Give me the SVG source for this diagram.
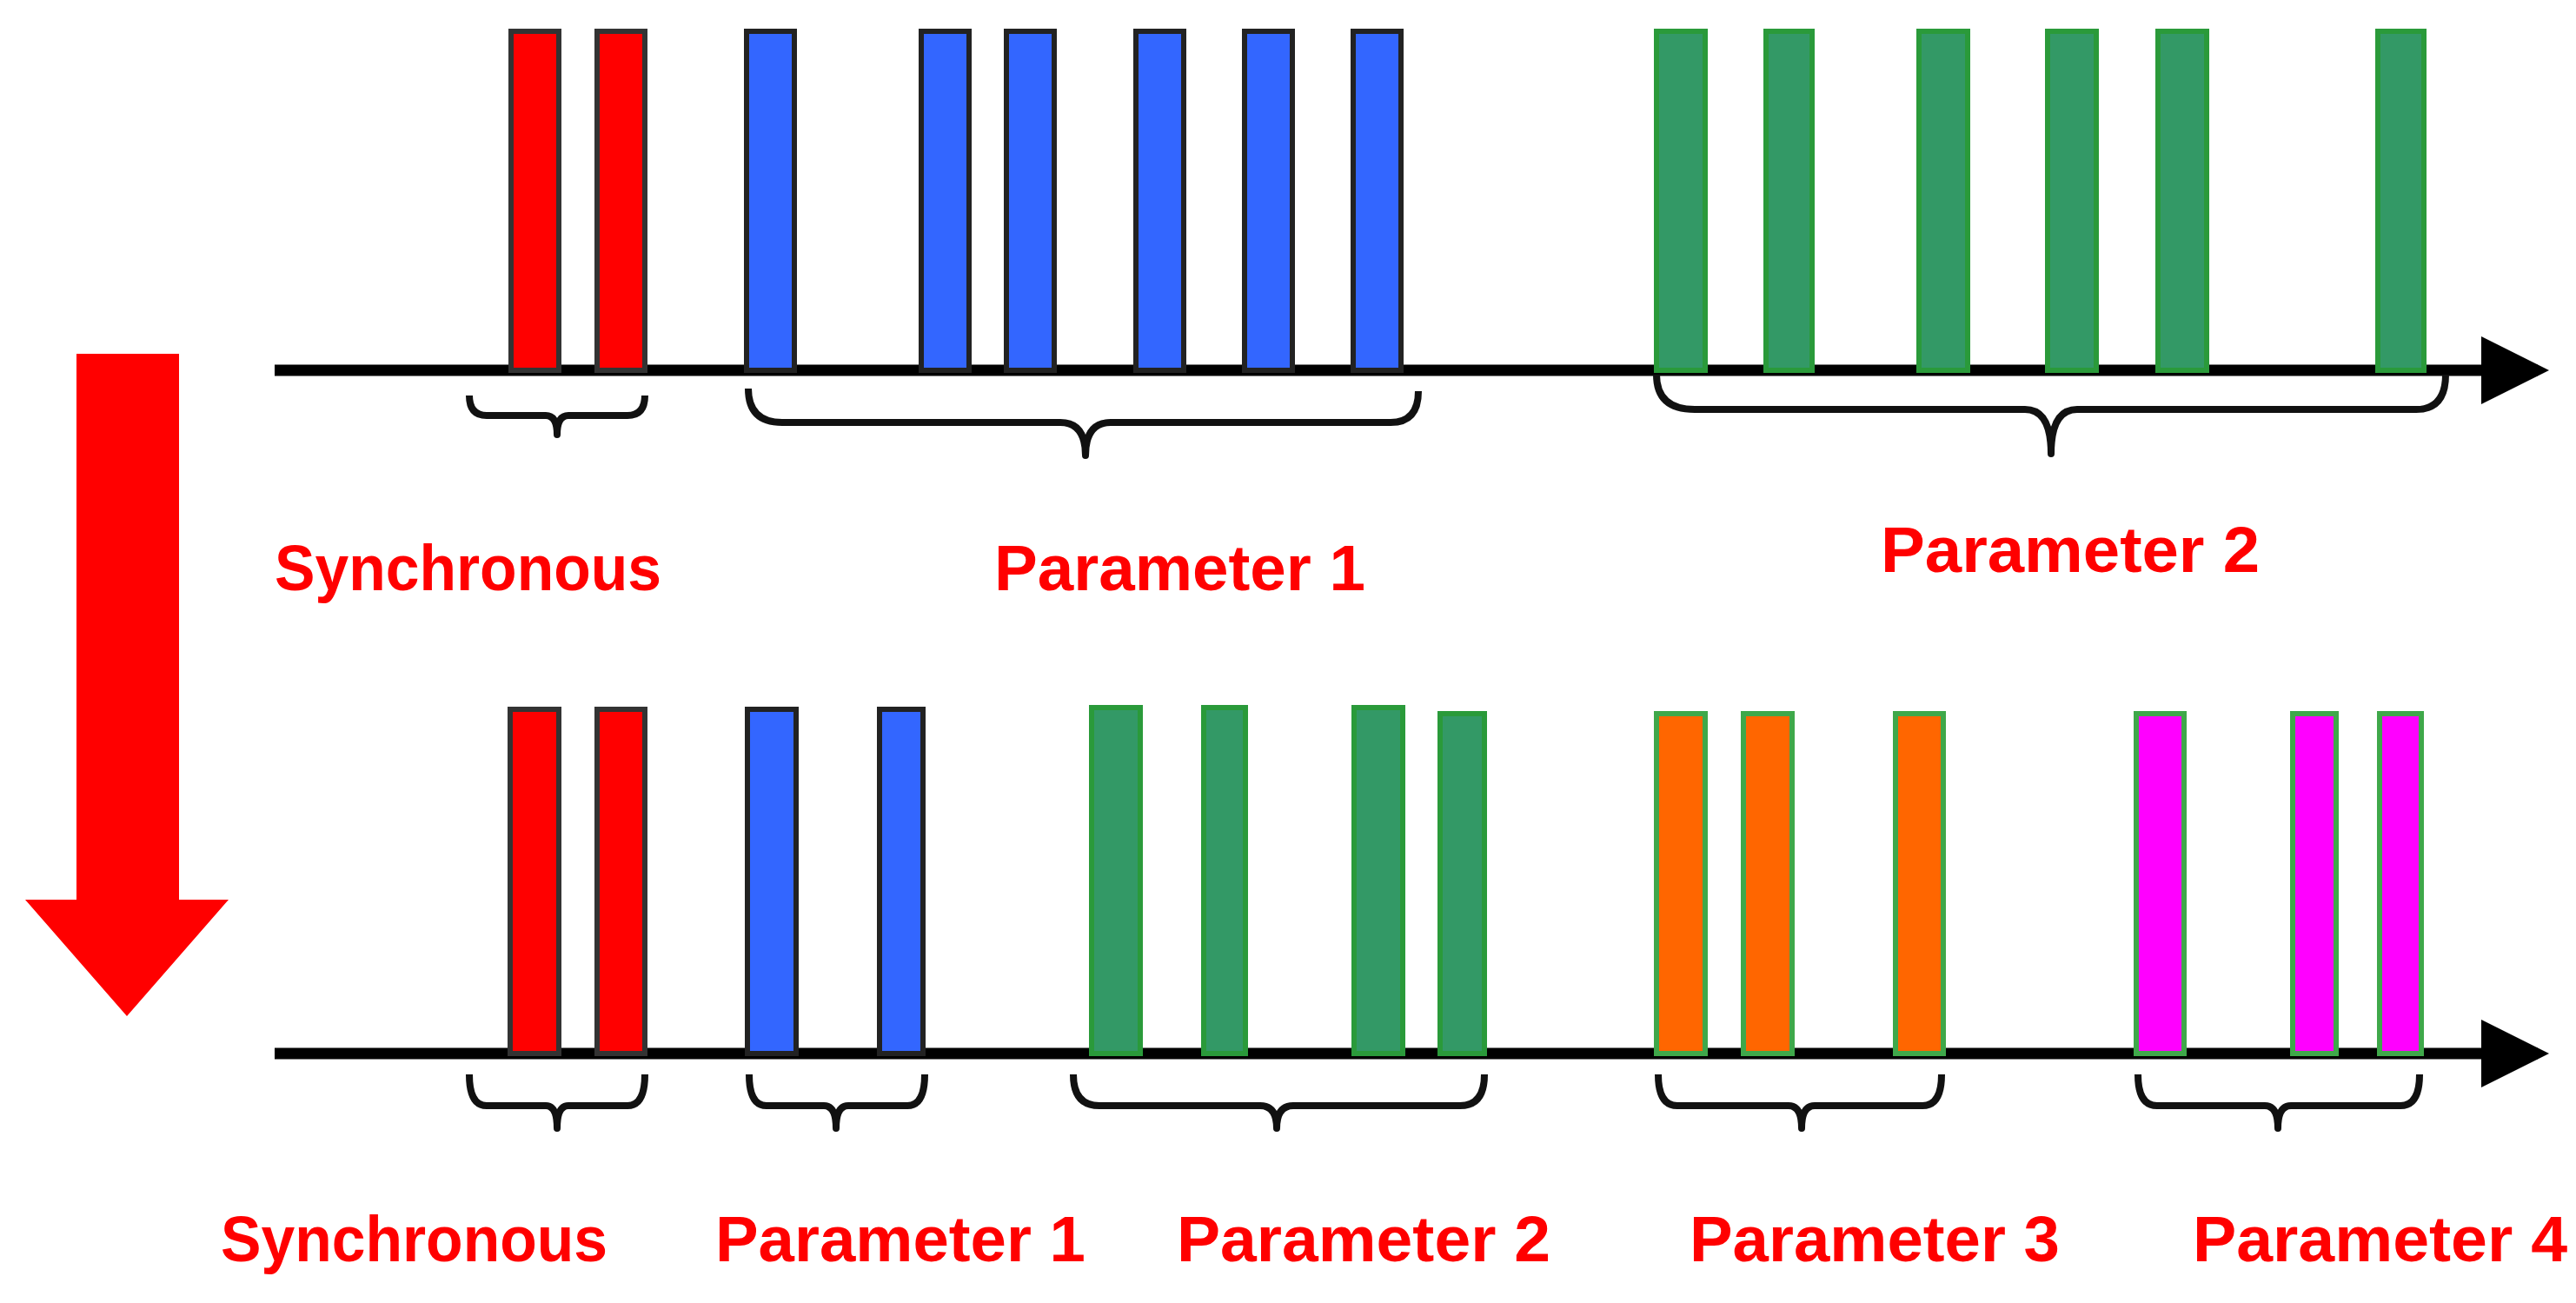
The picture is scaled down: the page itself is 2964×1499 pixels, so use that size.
<svg xmlns="http://www.w3.org/2000/svg" width="2964" height="1499" viewBox="0 0 2964 1499">
<style>
.ax{stroke:#000;stroke-width:13;fill:none}
.br{stroke:#111;stroke-width:8;fill:none;stroke-linejoin:round}
.r{fill:#ff0000;stroke:#333;stroke-width:6}
.b{fill:#3366ff;stroke:#222;stroke-width:6}
.g{fill:#339966;stroke:#2a9a3a;stroke-width:6}
.o{fill:#ff6600;stroke:#3fa84a;stroke-width:6}
.m{fill:#ff00ff;stroke:#3fa84a;stroke-width:6}
.t{font-family:"Liberation Sans",Arial,sans-serif;font-weight:bold;font-size:74px;fill:#ff0000}
</style>
<defs>
<marker id="ah" markerWidth="6" markerHeight="6" refX="5" refY="3" orient="auto" markerUnits="strokeWidth"><path d="M0,0 L6,3 L0,6 z" fill="#000"/></marker>
</defs>
<g id="big-arrow"><path d="M88,407 H206 V1035 H263 L146,1169 L29,1035 H88 Z" fill="#ff0000"/></g>
<g id="connectors">
<line class="ax" x1="316" y1="426" x2="2920" y2="426" marker-end="url(#ah)"/>
<line class="ax" x1="316" y1="1212" x2="2920" y2="1212" marker-end="url(#ah)"/>
</g>
<g id="row1-bars">
<rect class="r" x="588" y="36" width="55" height="390"/>
<rect class="r" x="687" y="36" width="55" height="390"/>
<rect class="b" x="859" y="36" width="55" height="390"/>
<rect class="b" x="1060" y="36" width="55" height="390"/>
<rect class="b" x="1158" y="36" width="55" height="390"/>
<rect class="b" x="1307" y="36" width="55" height="390"/>
<rect class="b" x="1432" y="36" width="55" height="390"/>
<rect class="b" x="1557" y="36" width="55" height="390"/>
<rect class="g" x="1906" y="36" width="56" height="390"/>
<rect class="g" x="2032" y="36" width="53" height="390"/>
<rect class="g" x="2208" y="36" width="56" height="390"/>
<rect class="g" x="2356" y="36" width="56" height="390"/>
<rect class="g" x="2483" y="36" width="56" height="390"/>
<rect class="g" x="2736" y="36" width="53" height="390"/>
</g>
<g id="row2-bars">
<rect class="r" x="587" y="816" width="56" height="396"/>
<rect class="r" x="687" y="816" width="55" height="396"/>
<rect class="b" x="860" y="816" width="56" height="396"/>
<rect class="b" x="1012" y="816" width="50" height="396"/>
<rect class="g" x="1256" y="814" width="56" height="398"/>
<rect class="g" x="1385" y="814" width="48" height="398"/>
<rect class="g" x="1558" y="814" width="56" height="398"/>
<rect class="g" x="1657" y="821" width="51" height="391"/>
<rect class="o" x="1906" y="821" width="56" height="391"/>
<rect class="o" x="2006" y="821" width="56" height="391"/>
<rect class="o" x="2181" y="821" width="55" height="391"/>
<rect class="m" x="2458" y="821" width="55" height="391"/>
<rect class="m" x="2638" y="821" width="50" height="391"/>
<rect class="m" x="2738" y="821" width="48" height="391"/>
</g>
<g id="braces">
<path class="br" d="M540,455 Q540,478 560,478 L628,478 Q641,478 641,500 Q641,478 654,478 L722,478 Q742,478 742,455"/>
<path class="br" d="M861,447 Q861,486 900,486 L1220,486 Q1249,486 1249,524 Q1249,486 1278,486 L1600,486 Q1632,486 1632,450"/>
<path class="br" d="M1906,431 Q1906,471 1950,471 L2330,471 Q2360,471 2360,522 Q2360,471 2390,471 L2780,471 Q2814,471 2814,431"/>
<path class="br" d="M540,1236 Q540,1272 560,1272 L628,1272 Q641,1272 641,1298 Q641,1272 654,1272 L722,1272 Q742,1272 742,1236"/>
<path class="br" d="M862,1236 Q862,1272 882,1272 L948,1272 Q962,1272 962,1298 Q962,1272 976,1272 L1044,1272 Q1064,1272 1064,1236"/>
<path class="br" d="M1235,1236 Q1235,1272 1265,1272 L1450,1272 Q1469,1272 1469,1298 Q1469,1272 1488,1272 L1680,1272 Q1708,1272 1708,1236"/>
<path class="br" d="M1908,1236 Q1908,1272 1930,1272 L2058,1272 Q2073,1272 2073,1298 Q2073,1272 2088,1272 L2212,1272 Q2234,1272 2234,1236"/>
<path class="br" d="M2460,1236 Q2460,1272 2482,1272 L2606,1272 Q2621,1272 2621,1298 Q2621,1272 2636,1272 L2762,1272 Q2784,1272 2784,1236"/>
</g>
<g id="labels">
<text class="t" x="316" y="679" textLength="445" lengthAdjust="spacingAndGlyphs">Synchronous</text>
<text class="t" x="1144" y="679" textLength="427" lengthAdjust="spacingAndGlyphs">Parameter 1</text>
<text class="t" x="2164" y="658" textLength="436" lengthAdjust="spacingAndGlyphs">Parameter 2</text>
<text class="t" x="254" y="1451" textLength="445" lengthAdjust="spacingAndGlyphs">Synchronous</text>
<text class="t" x="823" y="1451" textLength="426" lengthAdjust="spacingAndGlyphs">Parameter 1</text>
<text class="t" x="1354" y="1451" textLength="430" lengthAdjust="spacingAndGlyphs">Parameter 2</text>
<text class="t" x="1944" y="1451" textLength="426" lengthAdjust="spacingAndGlyphs">Parameter 3</text>
<text class="t" x="2523" y="1451" textLength="431" lengthAdjust="spacingAndGlyphs">Parameter 4</text>
</g>
</svg>
